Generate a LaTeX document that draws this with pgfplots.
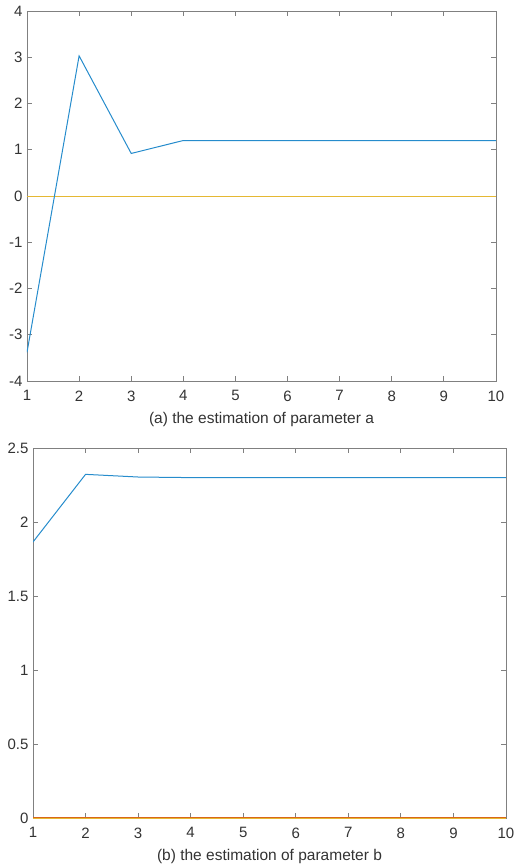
\documentclass[border=0pt]{standalone}
\usepackage{pgfplots}
\pgfplotsset{compat=1.18}
\usepackage{fontspec}
\setmainfont{Liberation Sans}
\definecolor{mblue}{rgb}{0.15,0.55,0.8}
\definecolor{morange}{rgb}{0.85,0.4,0.098}
\definecolor{myellow}{rgb}{0.9,0.72,0.2}
\definecolor{axgray}{rgb}{0.5,0.5,0.5}
\definecolor{txtgray}{rgb}{0.2,0.2,0.2}
\pgfplotsset{
  mstyle/.style={
    scale only axis,
    axis line style={axgray, line width=0.8pt},
    tick style={axgray, line width=0.8pt},
    major tick length=5pt,
    tick align=inside,
    xmin=1, xmax=10,
    xtick={1,...,10},
    tick label style={font=\fontsize{15}{17}\selectfont, text=txtgray},
    label style={font=\fontsize{15.5}{18}\selectfont, text=txtgray},
    /pgf/number format/assume math mode=true,
    xticklabel style={yshift=-6pt},
    yticklabel style={xshift=-1pt},
    xlabel style={yshift=-4pt},
  }
}
\begin{document}
\begin{tikzpicture}
\path[use as bounding box] (0,0) rectangle (514pt,-868pt);
\begin{axis}[mstyle, at={(27pt,-11pt)}, anchor=north west,
  width=469pt, height=370pt,
  ymin=-4, ymax=4, ytick={-4,-3,...,4},
  xlabel={(a) the estimation of parameter a}]
\addplot[myellow, line width=1pt] coordinates {(1,0) (10,0)};
\addplot[mblue, line width=1pt] coordinates {(1,-3.38) (2,3.03) (3,0.92) (4,1.2) (5,1.2) (6,1.2) (7,1.2) (8,1.2) (9,1.2) (10,1.2)};
\end{axis}
\begin{axis}[mstyle, at={(33pt,-448pt)}, anchor=north west,
  width=473pt, height=370pt,
  ymin=0, ymax=2.5, ytick={0,0.5,...,2.5},
  yticklabel style={/pgf/number format/fixed},
  xlabel={(b) the estimation of parameter b}]
\addplot[morange, line width=1.6pt] coordinates {(1,0) (10,0)};
\addplot[myellow, line width=0.7pt] coordinates {(1,0) (10,0)};
\addplot[mblue, line width=1pt] coordinates {(1,1.865) (2,2.322) (3,2.304) (4,2.30) (5,2.30) (6,2.30) (7,2.30) (8,2.30) (9,2.30) (10,2.30)};
\end{axis}
\end{tikzpicture}
\end{document}
